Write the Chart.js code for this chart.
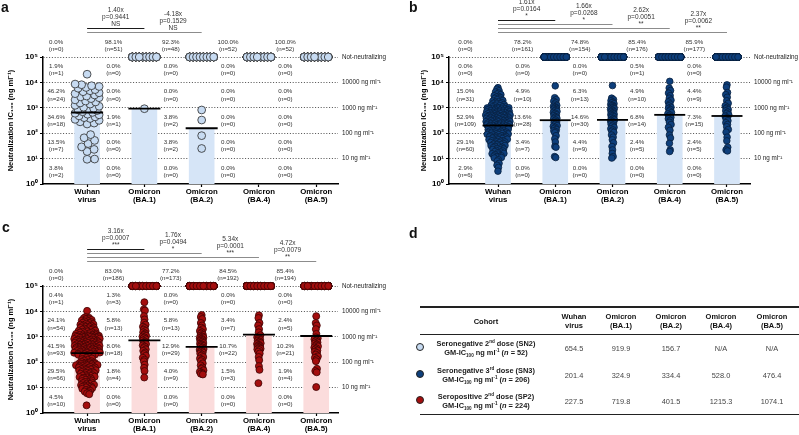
<!DOCTYPE html>
<html>
<head>
<meta charset="utf-8">
<script src="https://cdn.jsdelivr.net/npm/chart.js@4.4.1/dist/chart.umd.min.js"></script>
<style>
  html, body { margin: 0; padding: 0; background: #fff; }
  body { width: 799px; height: 435px; position: relative; overflow: hidden; font-family: "Liberation Sans", Arial, sans-serif; color: #111; }
  canvas { position: absolute; }
  .tag { position: absolute; font: bold 14px "Liberation Sans", Arial, sans-serif; line-height: 14px; }
  #tbl { position: absolute; left: 0; top: 0; width: 799px; height: 435px; will-change: transform; }
  .cell { position: absolute; width: 130px; height: 30px; display: flex; align-items: center; justify-content: center; text-align: center; white-space: nowrap; font-size: 7.4px; line-height: 9px; }
  .cell sup, .cell sub { font-size: 62%; line-height: 0; }
  .rule { position: absolute; left: 420px; width: 380px; background: #222; }
  .dot { position: absolute; width: 6.4px; height: 6.4px; border-radius: 50%; border: 0.8px solid #222; }
</style>
</head>
<body>
<canvas id="pa" width="400" height="220" style="left:0;top:0"></canvas>
<canvas id="pb" width="399" height="220" style="left:400px;top:0"></canvas>
<canvas id="pc" width="400" height="215" style="left:0;top:220px"></canvas>
<div class="tag" style="left:1px;top:0px">a</div>
<div class="tag" style="left:409px;top:0px">b</div>
<div class="tag" style="left:2px;top:220px">c</div>
<div class="tag" style="left:409px;top:226px">d</div>
<div id="tbl"></div>
<script>
const categories = [['Wuhan', 'virus'], ['Omicron', '(BA.1)'], ['Omicron', '(BA.2)'], ['Omicron', '(BA.4)'], ['Omicron', '(BA.5)']];
const yTicks = [1, 10, 100, 1000, 10000, 100000];
const yTickLabels = ['10⁰', '10¹', '10²', '10³', '10⁴', '10⁵'];
const refLabels = ['Not-neutralizing', '10000 ng ml⁻¹', '1000 ng ml⁻¹', '100 ng ml⁻¹', '10 ng ml⁻¹'];

// panel a: seronegative, 2nd dose (SN2)
const sn2Wuhan = [21000,
  8600, 8100, 7400, 6900, 6300, 5900, 5200, 4700, 4300, 3900, 3600, 3200, 2900, 2700, 2500, 2300, 2050, 1850, 1700, 1550, 1400, 1250, 1150, 1050,
  960, 910, 830, 780, 700, 660, 610, 560, 530, 480, 440, 410, 380, 350, 320, 280, 250, 230,
  88, 66, 52, 39, 29, 23, 19,
  9.6, 9.4];
const sn2BA1 = [919.9];
const sn2BA2 = [820, 330, 80, 25];
const sn2BA4 = [];
const sn2BA5 = [];
const sn2NotNeut = [0, 51, 48, 52, 52];
const sn2GM = [654.5, 919.9, 156.7, null, null];
// reported percentages per row: not-neutralizing, 10^4-10^5, 10^3-10^4, 10^2-10^3, 10-100, 1-10
const sn2Pct = [
  ['0.0', '1.9', '46.2', '34.6', '13.5', '3.8'],
  ['98.1', '0.0', '0.0', '1.9', '0.0', '0.0'],
  ['92.3', '0.0', '0.0', '3.8', '3.8', '0.0'],
  ['100.0', '0.0', '0.0', '0.0', '0.0', '0.0'],
  ['100.0', '0.0', '0.0', '0.0', '0.0', '0.0']];
const sn2Fold = ['1.40x', '-4.18x'];
const sn2P = ['p=0.9441', 'p=0.1529'];
const sn2Sig = ['NS', 'NS'];

// panel b: seronegative, 3rd dose (SN3)
const sn3Wuhan = [
  6200, 5400, 4700, 4200, 3800, 3500, 3300, 3000, 2800, 2650, 2500, 2350, 2200, 2100, 1950, 1850, 1750, 1650, 1600, 1500, 1450, 1400, 1320, 1270, 1220, 1180, 1130, 1090, 1060, 1030, 1010,
  990, 962, 948, 921, 897, 884, 861, 843, 826, 801, 789, 772, 751, 738, 719, 706, 688, 674, 661, 652,
  637, 624, 611, 602, 591, 583, 571, 560, 553, 541, 532, 520, 514, 503, 497, 489, 476, 468, 461, 450,
  444, 437, 426, 419, 411, 404, 398, 391, 383, 377, 369, 362, 357, 350, 344, 337, 331, 326, 320, 314,
  309, 303, 298, 292, 287, 281, 276, 270, 266, 261, 256, 251, 247, 243, 238, 233, 228, 224, 219, 215,
  211, 206, 202, 198, 193, 189, 184, 180, 176, 171, 167, 162, 158, 153, 149, 144, 139, 135, 130, 126,
  122, 118, 114, 111, 108, 105, 103, 101, 100.5,
  98, 95, 93, 90, 88, 85, 83, 80, 78, 76, 74, 72, 70, 68, 66, 64, 62, 60, 58, 56, 55, 53, 51, 50, 48, 46, 45, 43, 42, 40,
  39, 37, 36, 35, 33, 32, 31, 30, 28, 27, 26, 25, 24, 23, 22, 21, 20, 19, 18, 17, 16, 15.5, 15, 14, 13, 12.5, 12, 11.5, 11, 10.5,
  9, 8, 6.5, 5.5, 4.5, 3.2];
const sn3BA1 = [7300, 2500, 2100, 1800, 1600, 1400, 1250, 1150, 1080, 1020,
  950, 900, 850, 780, 720, 660, 610, 570, 530, 490, 450, 420, 390, 360, 330, 300, 280, 260, 240, 220, 200, 185, 170, 155, 140, 125, 115, 105,
  80, 60, 45, 30, 28, 12, 11];
const sn3BA2 = [7500, 2400, 2100, 1900, 1700, 1600, 1450, 1350, 1250, 1200, 1100, 1050, 1010,
  970, 920, 870, 820, 760, 720, 680, 640, 600, 560, 530, 500, 470, 440, 410, 380, 350, 330, 310, 290, 270, 250, 230, 210, 190, 170, 150, 135, 120, 108,
  85, 70, 55, 42, 30, 22, 16, 12, 10.5];
const sn3BA4 = [11000, 6000, 4800, 3800, 3000, 2400, 2000, 1700, 1400, 1200, 1050,
  950, 850, 750, 650, 580, 520, 470, 420, 370, 320, 270, 220, 170, 130,
  85, 65, 40, 22, 19];
const sn3BA5 = [8000, 6500, 4000, 3300, 2600, 1900, 1500, 1200, 1050,
  950, 850, 760, 680, 600, 530, 470, 410, 360, 310, 260, 220, 180, 140, 110,
  70, 50, 28, 22, 20];
const sn3NotNeut = [0, 161, 154, 176, 177];
const sn3GM = [201.4, 324.9, 334.4, 528.0, 476.4];
const sn3Pct = [
  ['0.0', '0.0', '15.0', '52.9', '29.1', '2.9'],
  ['78.2', '0.0', '4.9', '13.6', '3.4', '0.0'],
  ['74.8', '0.0', '6.3', '14.6', '4.4', '0.0'],
  ['85.4', '0.5', '4.9', '6.8', '2.4', '0.0'],
  ['85.9', '0.0', '4.4', '7.3', '2.4', '0.0']];
const sn3Fold = ['1.61x', '1.66x', '2.62x', '2.37x'];
const sn3P = ['p=0.0164', 'p=0.0268', 'p=0.0051', 'p=0.0062'];
const sn3Sig = ['*', '*', '**', '**'];

// panel c: seropositive, 2nd dose (SP2)
const sp2Wuhan = [10500,
  6000, 5600, 5400, 5100, 4900, 4600, 4400, 4200, 4000, 3800, 3600, 3450, 3300, 3150, 3000, 2900, 2800, 2700, 2600, 2500,
  2400, 2320, 2240, 2160, 2080, 2000, 1930, 1860, 1800, 1740, 1680, 1620, 1570, 1520, 1470, 1420, 1380, 1340, 1300, 1260,
  1230, 1200, 1170, 1140, 1120, 1100, 1080, 1060, 1045, 1030, 1020, 1012, 1006, 1002,
  990, 965, 945, 920, 900, 880, 860, 840, 820, 800, 785, 765, 750, 735, 720, 705, 690, 675, 660, 648,
  636, 624, 612, 600, 588, 577, 566, 555, 545, 535, 525, 515, 505, 496, 487, 478, 469, 460, 451, 443,
  435, 427, 419, 411, 403, 396, 389, 382, 375, 368, 361, 354, 347, 341, 335, 329, 323, 317, 311, 305,
  299, 293, 287, 281, 275, 270, 265, 260, 255, 250, 245, 240, 235, 230, 225, 220, 215, 210, 205, 200,
  195, 188, 180, 172, 164, 156, 148, 140, 132, 124, 116, 109, 103,
  99, 96, 94, 92, 90, 88, 86, 84, 82, 80, 78, 76, 74, 72, 70, 68, 66, 64, 62, 60,
  58, 57, 55, 53, 52, 50, 48, 47, 45, 44, 42, 41, 39, 38, 37, 35, 34, 33, 31, 30,
  29, 28, 27, 26, 25, 24, 23, 22, 21, 20, 19, 18, 17, 16.5, 16, 15, 14, 13.5, 13, 12.5, 12, 11.5, 11, 10.7, 10.4, 10.2,
  9.5, 9, 8.5, 8, 7.5, 7, 6.5, 6, 5.5, 2];
const sp2BA1 = [23000, 12000, 10800,
  6500, 4800, 3600, 3000, 2500, 2200, 1900, 1700, 1500, 1350, 1200, 1100, 1020,
  950, 880, 800, 720, 650, 580, 520, 460, 410, 360, 320, 280, 240, 210, 180, 150, 125, 108,
  80, 60, 45, 25];
const sp2BA2 = [7200, 6000, 5000, 3500, 2800, 2300, 2000, 1700, 1500, 1350, 1200, 1100, 1030,
  980, 930, 880, 830, 780, 730, 690, 650, 610, 570, 530, 500, 470, 440, 410, 380, 355, 330, 305, 280, 260, 240, 220, 200, 180, 160, 140, 125, 110,
  90, 75, 62, 55, 48, 42, 38, 35, 33];
const sp2BA4 = [7000, 5500, 3500, 2800, 2000, 1500, 1150,
  950, 880, 820, 760, 700, 650, 600, 560, 520, 480, 450, 420, 400, 380, 360, 340, 320, 300, 260, 220, 160, 120,
  70, 50, 15];
const sp2BA5 = [6500, 3500, 2800, 2000, 1300,
  950, 880, 800, 720, 660, 600, 550, 500, 460, 420, 380, 350, 320, 290, 260, 230, 200, 170, 150, 130, 110,
  55, 45, 40, 10.5];
const sp2NotNeut = [0, 186, 173, 192, 194];
const sp2GM = [227.5, 719.8, 401.5, 1215.3, 1074.1];
const sp2Pct = [
  ['0.0', '0.4', '24.1', '41.5', '29.5', '4.5'],
  ['83.0', '1.3', '5.8', '8.0', '1.8', '0.0'],
  ['77.2', '0.0', '5.8', '12.9', '4.0', '0.0'],
  ['84.5', '0.0', '3.4', '10.7', '1.5', '0.0'],
  ['85.4', '0.0', '2.4', '10.2', '1.9', '0.0']];
const sp2Fold = ['3.16x', '1.76x', '5.34x', '4.72x'];
const sp2P = ['p=0.0007', 'p=0.0494', 'p=0.0001', 'p=0.0079'];
const sp2Sig = ['***', '*', '***', '**'];

// panel d
const cohortNames = ['Seronegative 2<sup>nd</sup> dose (SN2)', 'Seronegative 3<sup>rd</sup> dose (SN3)', 'Seropositive 2<sup>nd</sup> dose (SP2)'];
const cohortN = [52, 206, 224];
const cohortGM = [sn2GM, sn3GM, sp2GM];

const FONT = '"Liberation Sans", Arial, sans-serif';
const CAT = 57.25;

// sparse columns: push each dot sideways until it stops overlapping
function packSwarm(vals, cat, p, half) {
  const pts = vals.map(v => ({ v, py: Math.log10(v) * p.dec })).sort((a, b) => a.py - b.py);
  const placed = [];
  const gap = p.gap * p.r;
  pts.forEach(pt => {
    let bestX = 0, bestD = -1;
    for (let k = 0; k <= half * 2; k++) {
      const cands = k === 0 ? [0] : [k / 2, -k / 2];
      for (const cx of cands) {
        let d = Infinity;
        for (const q of placed) {
          const dy = q.py - pt.py;
          if (Math.abs(dy) < gap) d = Math.min(d, Math.hypot(q.px - cx, dy));
        }
        if (d >= gap) { bestX = cx; bestD = Infinity; break; }
        if (d > bestD) { bestD = d; bestX = cx; }
      }
      if (bestD === Infinity) break;
    }
    pt.px = bestX;
    placed.push(pt);
  });
  return placed.map(pt => ({ x: cat + pt.px / CAT, y: pt.v }));
}

// dense columns: width follows local density, dots fanned out by a van der Corput sequence
function vdc(j) {
  let v = 0, d = 0.5;
  for (j += 1; j; j >>= 1, d /= 2) if (j & 1) v += d;
  return v;
}
function densitySwarm(vals, cat, p, half) {
  const ys = vals.map(v => Math.log10(v) * p.dec);
  return vals.map((v, j) => {
    const dens = ys.filter(y => Math.abs(y - ys[j]) < p.win).length;
    const h = Math.min(half, dens * p.spread);
    return { x: cat + h * (2 * vdc(j) - 1) / CAT, y: v };
  });
}

// not-neutralizing samples sit on the 10^5 line in a short row
function strip(count, cat, half) {
  const out = [];
  for (let j = 0; j < count; j++) out.push({ x: cat + (-half + (j % 8) * 2 * half / 7) / CAT, y: 1e5 });
  return out;
}

function bandCounts(vals, nn) {
  const c = [nn, 0, 0, 0, 0, 0];
  vals.forEach(v => { c[Math.min(5, Math.max(1, 5 - Math.floor(Math.log10(v))))]++; });
  return c;
}

function notes(p) {
  return {
    id: 'notes',
    afterDraw(chart) {
      const { ctx, chartArea: ca, scales: { x, y } } = chart;
      ctx.save();
      ctx.textAlign = 'center';
      ctx.textBaseline = 'middle';
      ctx.fillStyle = '#333';
      ctx.font = '6.2px ' + FONT;
      p.series.forEach((vals, i) => {
        const counts = bandCounts(vals, p.notNeut[i]);
        const px = x.getPixelForValue(i + p.textShift);
        counts.forEach((n, k) => {
          const py = y.getPixelForValue(Math.pow(10, k === 0 ? 5.45 : 5.5 - k));
          ctx.fillText(p.pct[i][k] + '%', px, py - 3.5);
          ctx.fillText('(n=' + n + ')', px, py + 3.7);
        });
      });
      ctx.textAlign = 'left';
      ctx.fillStyle = '#222';
      ctx.font = '6.3px ' + FONT;
      refLabels.forEach((t, k) => ctx.fillText(t, ca.right + 4, y.getPixelForValue(Math.pow(10, 5 - k))));
      const n = p.fold.length;
      const x0 = x.getPixelForValue(0);
      p.fold.forEach((f, i) => {
        const ly = ca.top - 24.5 - (n - 1 - i) * 4;
        ctx.strokeStyle = i === 0 ? '#1a1a1a' : '#8c8c8c';
        ctx.lineWidth = 1.1;
        ctx.beginPath();
        ctx.moveTo(x0, ly);
        ctx.lineTo(x.getPixelForValue(i + 1), ly);
        ctx.stroke();
        const tx = x.getPixelForValue(i + 0.5);
        ctx.textAlign = 'center';
        ctx.fillStyle = '#333';
        ctx.font = '6.5px ' + FONT;
        ctx.fillText(f, tx, ly - 18);
        ctx.fillText(p.p[i], tx, ly - 11);
        ctx.fillText(p.sig[i], tx, ly - 4.5);
      });
      ctx.restore();
    }
  };
}

function panel(id, p) {
  const pts = [];
  p.series.forEach((vals, i) => {
    pts.push(...strip(p.notNeut[i], i, p.stripHalf));
    pts.push(...(p.dense ? densitySwarm : packSwarm)(vals, i, p, i === 0 ? p.wide : p.narrow));
  });
  const gmPts = p.gm.map((g, i) => (g == null ? null : { x: i, y: g })).filter(Boolean);

  new Chart(document.getElementById(id), {
    type: 'scatter',
    data: {
      datasets: [
        { data: gmPts, pointStyle: 'line', pointRadius: p.gmHalf, borderColor: '#000', borderWidth: 1.8, order: 0, clip: false },
        { data: pts, pointRadius: p.r, backgroundColor: p.fill, borderColor: p.edge, borderWidth: 0.8, order: 1, clip: false },
        { type: 'bar', data: gmPts, backgroundColor: p.bar, borderWidth: 0, barThickness: 25, order: 2 }
      ]
    },
    options: {
      responsive: false,
      animation: false,
      events: [],
      layout: { padding: p.pad },
      plugins: { legend: { display: false }, tooltip: { enabled: false } },
      scales: {
        x: {
          type: 'linear', min: p.xMin, max: p.xMax, offset: false,
          afterBuildTicks: s => { s.ticks = categories.map((c, i) => ({ value: i })); },
          afterFit: s => { s.height = p.xH; },
          grid: { display: true, offset: false, drawOnChartArea: false, drawTicks: true, tickLength: 3, tickColor: '#000', tickWidth: 1.2 },
          border: { color: '#000', width: 1.5 },
          ticks: {
            autoSkip: false, maxRotation: 0, padding: 1, color: '#000',
            font: { family: FONT, size: 7.8, weight: 'bold', lineHeight: 1.05 },
            callback: v => categories[v]
          }
        },
        y: {
          type: 'logarithmic', min: 1, max: 1e5,
          afterBuildTicks: s => { s.ticks = yTicks.map(v => ({ value: v })); },
          afterFit: s => { s.width = p.yW; },
          grid: {
            color: c => (c.tick && c.tick.value > 1 ? '#3a3a3a' : 'rgba(0,0,0,0)'),
            lineWidth: 0.9, tickLength: 3, tickColor: '#000', tickWidth: 1.2
          },
          border: { color: '#000', width: 1.5, dash: [1, 1.8] },
          ticks: {
            autoSkip: false, padding: 2, color: '#000',
            font: { family: FONT, size: 8, weight: 'bold' },
            callback: v => yTickLabels[yTicks.indexOf(v)]
          },
          title: {
            display: true, text: 'Neutralization IC₁₀₀ (ng ml⁻¹)', color: '#000',
            font: { family: FONT, size: 7.5, weight: 'bold' }, padding: { top: p.titlePad, bottom: 0 }
          }
        }
      }
    },
    plugins: [notes(p)]
  });
}

panel('pa', {
  series: [sn2Wuhan, sn2BA1, sn2BA2, sn2BA4, sn2BA5], notNeut: sn2NotNeut, gm: sn2GM, pct: sn2Pct,
  fold: sn2Fold, p: sn2P, sig: sn2Sig,
  fill: '#c7dbf2', edge: '#2b2b2b', bar: '#d6e5f7',
  r: 3.9, gap: 1.8, dec: 25.4, wide: 12, narrow: 2.5, stripHalf: 12, gmHalf: 16,
  pad: { left: 0, top: 57, right: 62, bottom: 0 }, yW: 43, xH: 36, xMin: -0.77, xMax: 4.38,
  titlePad: 6.5, textShift: -0.54
});

panel('pb', {
  series: [sn3Wuhan, sn3BA1, sn3BA2, sn3BA4, sn3BA5], notNeut: sn3NotNeut, gm: sn3GM, pct: sn3Pct,
  fold: sn3Fold, p: sn3P, sig: sn3Sig,
  fill: '#0e3f7c', edge: '#081f3e', bar: '#d6e5f7',
  r: 3.3, dense: true, win: 3, spread: 0.55, dec: 25.4, wide: 12.5, narrow: 2, stripHalf: 11, gmHalf: 15.5,
  pad: { left: 12, top: 57, right: 49, bottom: 0 }, yW: 37, xH: 36, xMin: -0.856, xMax: 4.402,
  titlePad: 7.5, textShift: -0.57
});

panel('pc', {
  series: [sp2Wuhan, sp2BA1, sp2BA2, sp2BA4, sp2BA5], notNeut: sp2NotNeut, gm: sp2GM, pct: sp2Pct,
  fold: sp2Fold, p: sp2P, sig: sp2Sig,
  fill: '#a40e0e', edge: '#3d0404', bar: '#fbdcdc',
  r: 3.5, dense: true, win: 3, spread: 0.55, dec: 25.4, wide: 13, narrow: 2, stripHalf: 12, gmHalf: 16,
  pad: { left: 0, top: 66, right: 62, bottom: 0 }, yW: 43, xH: 22, xMin: -0.77, xMax: 4.38,
  titlePad: 6.5, textShift: -0.54
});

// panel d: summary table of geometric means
const tbl = document.getElementById('tbl');
const colX = [574, 621, 671, 721, 772];
const rowY = [348, 375, 401];
const dotColors = ['#c7dbf2', '#0e3f7c', '#a40e0e'];
function cell(html, x, y, css) {
  const d = document.createElement('div');
  d.className = 'cell';
  d.innerHTML = '<span>' + html + '</span>';
  d.style.cssText = 'left:' + (x - 65) + 'px;top:' + (y - 15) + 'px;' + (css || '');
  tbl.appendChild(d);
}
function rule(y, h) {
  const d = document.createElement('div');
  d.className = 'rule';
  d.style.top = y + 'px';
  d.style.height = h + 'px';
  tbl.appendChild(d);
}
rule(306.3, 1.4);
rule(333.6, 1.1);
rule(414, 1.4);
cell('Cohort', 486, 321, 'font-weight:bold;font-size:7.5px;');
categories.forEach((c, i) => cell(c.join('<br>'), colX[i], 321, 'font-weight:bold;font-size:7.5px;'));
cohortNames.forEach((name, r) => {
  cell(name + '<br>GM-IC<sub>100</sub> ng ml<sup>-1</sup> (<i>n</i> = ' + cohortN[r] + ')', 486, rowY[r], 'font-weight:bold;color:#1a1a1a;');
  cohortGM[r].forEach((g, i) => cell(g == null ? 'N/A' : g.toFixed(1), colX[i], rowY[r], 'color:#444;'));
  const d = document.createElement('div');
  d.className = 'dot';
  d.style.left = '416px';
  d.style.top = (rowY[r] - 5) + 'px';
  d.style.background = dotColors[r];
  tbl.appendChild(d);
});
</script>
</body>
</html>
